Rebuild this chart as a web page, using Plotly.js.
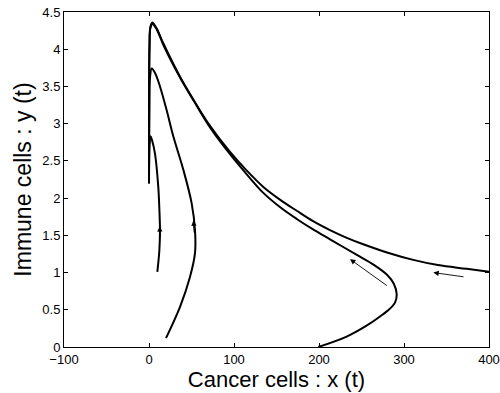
<!DOCTYPE html>
<html><head><meta charset="utf-8">
<script src="https://cdn.plot.ly/plotly-3.0.1.min.js"></script>
<style>body{margin:0;background:#fff}#chart{width:500px;height:393px}</style>
</head><body><div id="chart"></div>
<script>
// Trajectory A (enters from the right edge, x ~ 400)
const curveA_x = [400, 373.7, 340, 310.9, 280, 252.1, 232, 212.9, 193, 173.8, 154, 134.5, 115, 95.3, 71.8, 56.1, 36.5, 16.8, 9, 3.9, 1.6, 0.6, 0.2, 0];
const curveA_y = [1.01, 1.05, 1.10, 1.17, 1.27, 1.38, 1.47, 1.57, 1.69, 1.83, 1.98, 2.15, 2.37, 2.62, 2.97, 3.25, 3.63, 4.08, 4.28, 4.36, 4.30, 4.05, 3.6, 2.2];
// Trajectory B (starts at x = 200, y = 0)
const curveB_x = [199.2, 232.5, 255, 271.8, 283, 289.5, 291.4, 288, 280, 265, 244, 214, 193, 173.8, 154, 134.5, 115, 95.3, 71.8, 56.1, 36.5, 16.8, 9, 3.9, 1.6, 0.6, 0.2, 0];
const curveB_y = [0.0, 0.14, 0.28, 0.41, 0.51, 0.60, 0.71, 0.85, 0.97, 1.10, 1.24, 1.44, 1.58, 1.72, 1.88, 2.07, 2.32, 2.59, 2.95, 3.24, 3.62, 4.06, 4.27, 4.34, 4.28, 4.03, 3.6, 2.2];
// Trajectory C (starts near x = 20, y = 0.12)
const curveC_x = [20, 36.5, 48.2, 54.1, 54.1, 50.2, 40.4, 28.6, 20.8, 12.9, 7.1, 3.2, 1.2, 0.4, 0];
const curveC_y = [0.12, 0.54, 0.94, 1.26, 1.57, 1.93, 2.38, 2.83, 3.18, 3.50, 3.68, 3.74, 3.62, 3.2, 2.2];
// Trajectory D (starts near x = 10, y = 1)
const curveD_x = [9.8, 12.2, 12.9, 12.2, 10.9, 7, 3.5, 1.9, 0.7, 0.2, 0];
const curveD_y = [1.01, 1.3, 1.57, 1.85, 2.15, 2.60, 2.78, 2.83, 2.72, 2.5, 2.2];

// Direction arrows: tail -> head
const arrowTailX = [281.6, 371.8];
const arrowTailY = [0.81, 0.94];
const arrowHeadX = [236.5, 334.5];
const arrowHeadY = [1.18, 1.00];
// Small arrowheads on curves C and D (pointing up)
const headX = [12.6, 52.3];
const headY = [1.62, 1.70];
const headTailX = [12.9, 53.6];
const headTailY = [1.45, 1.52];

const line = {color: '#000', width: 2, shape: 'spline', smoothing: 1};
const traces = [
  {x: curveA_x, y: curveA_y},
  {x: curveB_x, y: curveB_y},
  {x: curveC_x, y: curveC_y},
  {x: curveD_x, y: curveD_y}
].map(t => Object.assign(t, {mode: 'lines', line: line, hoverinfo: 'skip', showlegend: false}));

const annotations = [];
for (let i = 0; i < arrowTailX.length; i++) {
  annotations.push({x: arrowHeadX[i], y: arrowHeadY[i], ax: arrowTailX[i], ay: arrowTailY[i],
    xref: 'x', yref: 'y', axref: 'x', ayref: 'y', text: '', showarrow: true,
    arrowhead: 2, arrowsize: 1.2, arrowwidth: 0.9, arrowcolor: '#000'});
}
for (let i = 0; i < headX.length; i++) {
  annotations.push({x: headX[i], y: headY[i], ax: headTailX[i], ay: headTailY[i],
    xref: 'x', yref: 'y', axref: 'x', ayref: 'y', text: '', showarrow: true,
    arrowhead: 2, arrowsize: 0.7, arrowwidth: 1.5, arrowcolor: '#000'});
}

const FONT = 'Liberation Sans, Arial, Helvetica, sans-serif';
const axisCommon = {showline: true, linecolor: '#000', linewidth: 1, mirror: 'ticks', ticks: 'inside',
  ticklen: 4, tickcolor: '#000', showgrid: false, zeroline: false,
  tickfont: {family: FONT, size: 13, color: '#000'}};

const layout = {
  width: 500, height: 393,
  margin: {l: 64, r: 11, t: 12, b: 46},
  paper_bgcolor: '#fff', plot_bgcolor: '#fff',
  xaxis: Object.assign({}, axisCommon, {range: [-100, 400], tickmode: 'linear', tick0: -100, dtick: 100,
    title: {text: 'Cancer cells : x (t)', font: {family: FONT, size: 22, color: '#000'}, standoff: 0}}),
  yaxis: Object.assign({}, axisCommon, {range: [0, 4.5], tickmode: 'linear', tick0: 0, dtick: 0.5,
    title: {text: 'Immune cells : y (t)', font: {family: FONT, size: 23, color: '#000'}, standoff: 4}}),
  annotations: annotations
};

Plotly.newPlot('chart', traces, layout, {staticPlot: true, displayModeBar: false});
</script></body></html>
